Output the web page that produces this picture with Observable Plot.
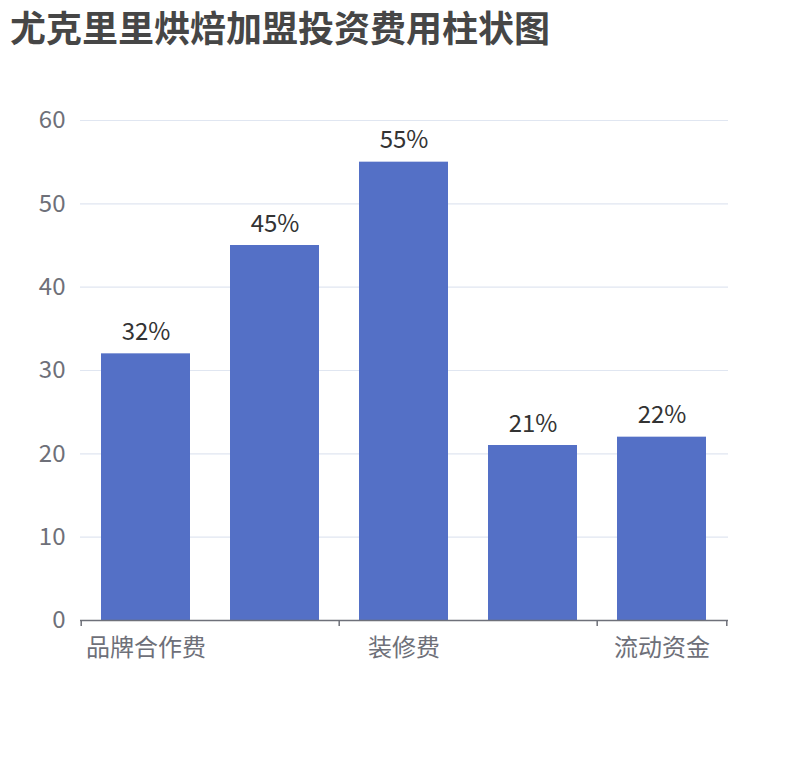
<!DOCTYPE html>
<html><head><meta charset="utf-8">
<script src="https://cdn.jsdelivr.net/npm/d3@7"></script>
<script src="https://cdn.jsdelivr.net/npm/@observablehq/plot@0.6"></script>
<style>
body{margin:0;background:#fff;font-family:"Noto Sans CJK SC","Noto Sans",sans-serif;}
#wrap{position:relative;width:810px;height:760px;}
#title{position:absolute;left:10px;top:2px;font-size:36px;line-height:48px;font-weight:bold;color:#464646;white-space:nowrap;}
#chart{position:absolute;left:0;top:60px;}
</style></head>
<body>
<div id="wrap"><div id="title">尤克里里烘焙加盟投资费用柱状图</div><div id="chart"></div></div>
<script>
const categories = ["品牌合作费", "设备费", "装修费", "原料费", "流动资金"];
const values = [32, 45, 55, 21, 22];
const yTicks = [0, 10, 20, 30, 40, 50, 60];
const shownLabels = ["品牌合作费", "装修费", "流动资金"];

const data = categories.map((c, i) => ({cat: c, v: values[i]}));
const W = 810, H = 700, mL = 80, mR = 82;
const step = (W - mL - mR) / categories.length;

const chart = Plot.plot({
  width: W, height: H,
  marginTop: 60, marginBottom: 140, marginLeft: mL, marginRight: mR,
  style: {fontFamily: '"Noto Sans CJK SC","Noto Sans",sans-serif', fontSize: "24px", background: "#fff"},
  x: {domain: categories, paddingInner: 0.31, paddingOuter: 0.155, axis: null, label: null},
  y: {domain: [0, 60], axis: null, label: null},
  marks: [
    Plot.gridY(yTicks, {stroke: "#e0e6f1", strokeOpacity: 1, strokeWidth: 1.2}),
    Plot.axisY(yTicks, {tickSize: 0, tickPadding: 15, fill: "#6e7079", fontSize: 24, textAnchor: "end", label: null}),
    Plot.barY(data, {x: "cat", y: "v", fill: "#5470c6"}),
    Plot.text(data, {x: "cat", y: "v", text: d => d.v + "%", dy: -14, lineAnchor: "bottom", fill: "#333", fontSize: 24}),
    Plot.ruleY([0], {stroke: "#6e7079", strokeWidth: 1.5}),
    Plot.axisX([categories[0], categories[2], categories[4]], {tickSize: 6, dx: -step / 2, text: null, stroke: "#6e7079", strokeWidth: 1.5, label: null}),
    Plot.axisX([categories[4]], {tickSize: 6, dx: step / 2, text: null, stroke: "#6e7079", strokeWidth: 1.5, label: null}),
    Plot.axisX(shownLabels, {tickSize: 0, tickPadding: 18, fill: "#6e7079", fontSize: 24, label: null})
  ]
});
document.getElementById("chart").appendChild(chart);
</script>
</body></html>
